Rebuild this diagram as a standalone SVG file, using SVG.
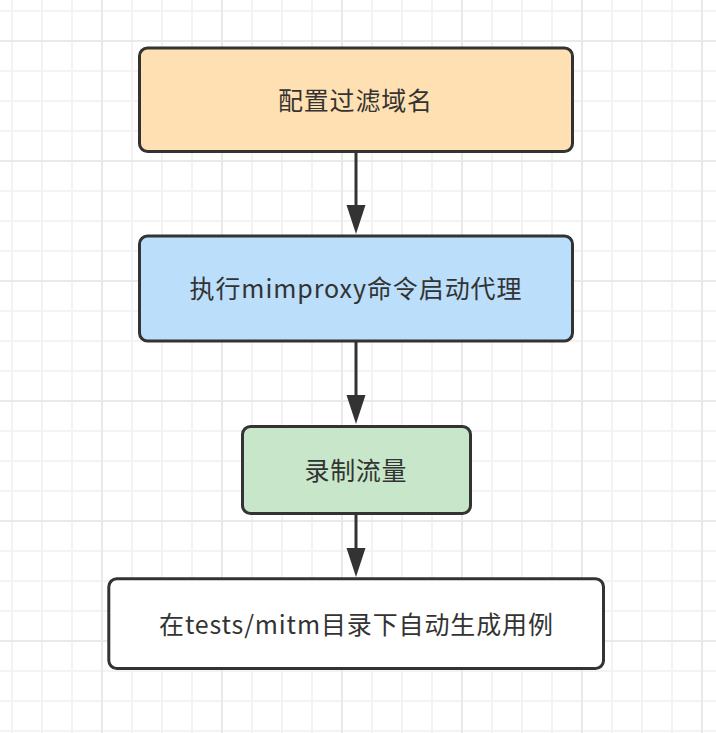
<svg xmlns="http://www.w3.org/2000/svg" width="716" height="733" viewBox="0 0 716 733">
  <style>
    .box { stroke: #333333; stroke-width: 3; }
    .label { font-family: "Microsoft YaHei", "Noto Sans CJK SC", "Noto Sans", sans-serif; font-size: 25px; fill: #333333; text-anchor: middle; }
    .edge { stroke: #333333; stroke-width: 3; fill: none; }
    .head { fill: #333333; stroke: none; }
    .minor { fill: #f3f3f3; }
    .major { fill: #e9e9e9; }
  </style>
  <defs>
    <pattern id="grid" x="11" y="10" width="120" height="120" patternUnits="userSpaceOnUse">
      <rect class="minor" x="0" y="0" width="2" height="120"/>
      <rect class="minor" x="30" y="0" width="2" height="120"/>
      <rect class="minor" x="60" y="0" width="2" height="120"/>
      <rect class="minor" x="0" y="0" width="120" height="2"/>
      <rect class="minor" x="0" y="60" width="120" height="2"/>
      <rect class="minor" x="0" y="90" width="120" height="2"/>
      <rect class="major" x="0" y="30" width="120" height="2"/>
      <rect class="major" x="90" y="0" width="2" height="120"/>
    </pattern>
  </defs>
  <rect x="0" y="0" width="716" height="733" fill="#ffffff"/>
  <rect x="0" y="0" width="716" height="733" fill="url(#grid)"/>

  <g id="connectors">
    <line class="edge" x1="356" y1="152" x2="356" y2="208"/>
    <polygon class="head" points="346.5,205 365.5,205 356,234"/>
    <line class="edge" x1="356" y1="342" x2="356" y2="398"/>
    <polygon class="head" points="346.5,395 365.5,395 356,424"/>
    <line class="edge" x1="356" y1="515" x2="356" y2="551"/>
    <polygon class="head" points="346.5,548 365.5,548 356,577"/>
  </g>

  <g id="node1">
    <rect class="box" x="139.5" y="48" width="433" height="103.5" rx="8" fill="#ffe0b2"/>
    <text class="label" x="355" y="110" textLength="154">配置过滤域名</text>
  </g>
  <g id="node2">
    <rect class="box" x="139.5" y="236" width="433" height="105" rx="8" fill="#bbdefb"/>
    <text class="label" x="355.5" y="297.5" textLength="332">执行mimproxy命令启动代理</text>
  </g>
  <g id="node3">
    <rect class="box" x="242.5" y="426.5" width="228" height="87" rx="8" fill="#c8e6c9"/>
    <text class="label" x="355.5" y="479.5" textLength="102">录制流量</text>
  </g>
  <g id="node4">
    <rect class="box" x="108.8" y="578.8" width="494.7" height="89.7" rx="8" fill="#ffffff"/>
    <text class="label" x="356" y="633.5" textLength="394">在tests/mitm目录下自动生成用例</text>
  </g>
</svg>
